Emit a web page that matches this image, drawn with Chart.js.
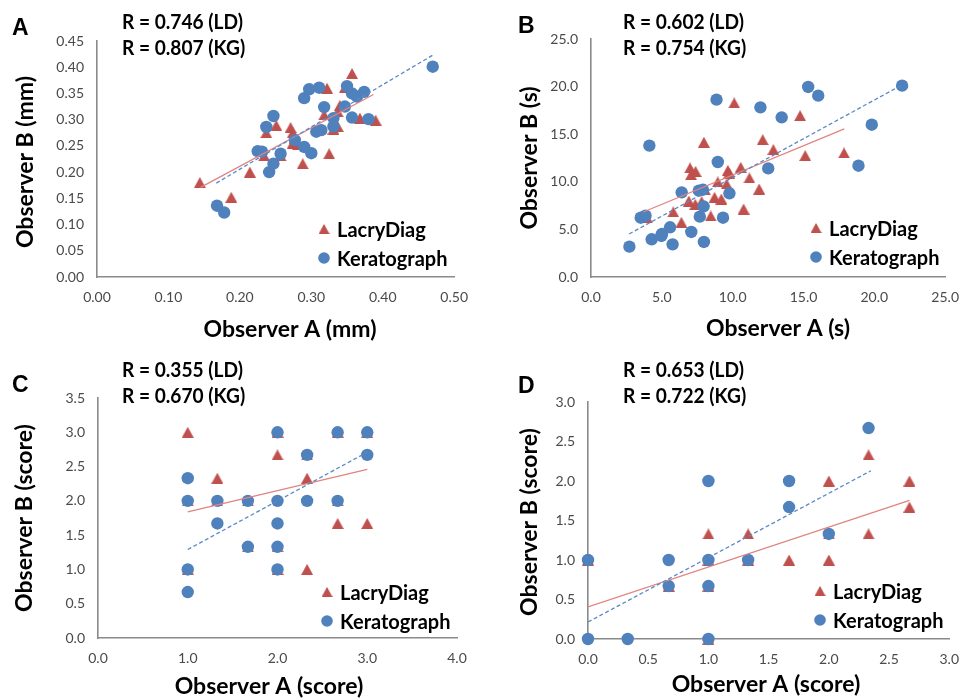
<!DOCTYPE html>
<html>
<head>
<meta charset="utf-8">
<script src="https://cdn.jsdelivr.net/npm/chart.js@4.4.1/dist/chart.umd.min.js"></script>
<style>
  body { margin: 0; background: #fff; width: 971px; height: 698px; overflow: hidden; position: relative; }
  canvas { position: absolute; }
</style>
</head>
<body>
<canvas id="cA" width="480" height="349" style="left:0;top:0"></canvas>
<canvas id="cB" width="491" height="349" style="left:480px;top:0"></canvas>
<canvas id="cC" width="480" height="349" style="left:0;top:349px"></canvas>
<canvas id="cD" width="491" height="349" style="left:480px;top:349px"></canvas>
<script>
// ---- panel A (mm) ----
const aTicksX = ['0.00', '0.10', '0.20', '0.30', '0.40', '0.50'];
const aTicksY = ['0.00', '0.05', '0.10', '0.15', '0.20', '0.25', '0.30', '0.35', '0.40', '0.45'];
const aKgX = [0.168, 0.178, 0.225, 0.231, 0.237, 0.247, 0.241, 0.247, 0.257, 0.277, 0.290, 0.300, 0.290, 0.297,
  0.311, 0.318, 0.307, 0.314, 0.331, 0.331, 0.347, 0.350, 0.357, 0.364, 0.374, 0.357, 0.380, 0.470];
const aKgY = [0.136, 0.123, 0.240, 0.239, 0.286, 0.307, 0.200, 0.216, 0.235, 0.261, 0.248, 0.236, 0.341, 0.358,
  0.361, 0.324, 0.277, 0.280, 0.303, 0.287, 0.325, 0.364, 0.350, 0.344, 0.353, 0.304, 0.301, 0.401];
const aLdX = [0.144, 0.188, 0.214, 0.234, 0.237, 0.251, 0.257, 0.271, 0.274, 0.274, 0.281, 0.288, 0.322, 0.318,
  0.325, 0.331, 0.337, 0.337, 0.340, 0.347, 0.357, 0.368, 0.390, 0.277];
const aLdY = [0.180, 0.152, 0.200, 0.231, 0.275, 0.289, 0.231, 0.285, 0.275, 0.255, 0.252, 0.216, 0.360, 0.309,
  0.235, 0.282, 0.287, 0.315, 0.327, 0.361, 0.388, 0.303, 0.299, 0.265];
const aLdFitX = [0.145, 0.387], aLdFitY = [0.171, 0.348];
const aKgFitX = [0.167, 0.470], aKgFitY = [0.179, 0.423];

// ---- panel B (s) ----
const bTicks = ['0.0', '5.0', '10.0', '15.0', '20.0', '25.0'];
const bKgX = [2.71, 3.51, 3.85, 4.12, 4.28, 4.97, 5.01, 5.58, 5.76, 6.40, 7.08, 7.68, 7.61, 7.90, 7.95, 7.97,
  8.86, 8.95, 9.32, 9.77, 11.96, 12.51, 13.46, 15.33, 16.04, 18.88, 19.82, 21.96];
const bKgY = [3.19, 6.23, 6.44, 13.8, 3.96, 4.31, 4.52, 5.22, 3.43, 8.89, 4.73, 6.34, 9.07, 9.17, 7.42, 3.68,
  18.63, 12.08, 6.23, 8.79, 17.82, 11.41, 16.77, 19.96, 19.05, 11.69, 16.0, 20.10];
const bLdX = [3.96, 5.81, 6.38, 6.90, 6.99, 7.06, 7.38, 7.36, 7.81, 7.97, 8.04, 8.45, 8.72, 8.95, 9.20, 9.57,
  9.66, 9.75, 10.11, 10.57, 10.77, 11.18, 11.87, 12.12, 12.87, 14.76, 15.12, 17.86];
const bLdY = [6.2, 6.83, 5.74, 7.98, 11.45, 10.75, 11.10, 7.63, 7.91, 14.15, 9.17, 6.41, 8.37, 9.98, 8.19, 9.77,
  11.2, 10.92, 18.28, 11.52, 7.14, 10.40, 9.24, 14.43, 13.38, 16.95, 12.75, 13.03];
const bLdFitX = [3.69, 17.88], bLdFitY = [6.83, 15.55];
const bKgFitX = [2.69, 21.98], bKgFitY = [4.52, 20.2];

// ---- panel C (score) ----
const cTicksX = ['0.0', '1.0', '2.0', '3.0', '4.0'];
const cTicksY = ['0.0', '0.5', '1.0', '1.5', '2.0', '2.5', '3.0', '3.5'];
const cKgX = [1, 1, 1, 1, 1.33, 1.33, 1.67, 1.67, 2, 2, 2, 2, 2, 2.33, 2.33, 2.67, 2.67, 3, 3];
const cKgY = [2.33, 2, 1, 0.67, 2, 1.67, 2, 1.33, 3, 2, 1.67, 1.33, 1, 2.67, 2, 3, 2, 3, 2.67];
const cLdX = [1, 1.33, 2, 2.33, 2.33, 2.67, 3, 1, 1, 1.33, 1.67, 1.67, 2, 2, 2, 2.33, 2.67, 2.67, 3];
const cLdY = [3, 2.33, 2.67, 2.33, 1, 1.67, 1.67, 2, 1, 2, 2, 1.33, 3, 1.33, 1, 2.67, 3, 2, 3];
const cLdFitX = [1, 3], cLdFitY = [1.84, 2.46];
const cKgFitX = [1, 3], cKgFitY = [1.29, 2.71];

// ---- panel D (score) ----
const dTicks = ['0.0', '0.5', '1.0', '1.5', '2.0', '2.5', '3.0'];
const dKgX = [0, 0, 0.33, 0.67, 0.67, 1, 1, 1, 1, 1.33, 1.67, 1.67, 2, 2.33];
const dKgY = [1, 0, 0, 1, 0.67, 2, 1, 0.67, 0, 1, 2, 1.67, 1.33, 2.67];
const dLdX = [1, 1.33, 1.67, 2, 2, 2.33, 2.33, 2.67, 2.67, 0, 0.67, 1, 1, 1, 1.33, 2];
const dLdY = [1.33, 1.33, 1, 2, 1, 2.33, 1.33, 2, 1.67, 1, 0.67, 1, 0.67, 0, 1, 1.33];
const dLdFitX = [0, 2.67], dLdFitY = [0.405, 1.755];
const dKgFitX = [0, 2.35], dKgFitY = [0.215, 2.13];

const BLUE = '#4F81BD';
const RED = '#C0504D';
const TXT = 'Lato, "Open Sans", sans-serif';

const pts = (xs, ys) => xs.map((x, i) => ({ x: x, y: ys[i] }));

// excel-like triangle marker: fills its whole box
const triImg = document.createElement('canvas');
triImg.width = 12;
triImg.height = 11;
(function () {
  const t = triImg.getContext('2d');
  t.fillStyle = RED;
  t.beginPath();
  t.moveTo(6, 0);
  t.lineTo(12, 11);
  t.lineTo(0, 11);
  t.closePath();
  t.fill();
})();

// letter, R values, legend and axis titles
const panelText = {
  id: 'panelText',
  afterDraw(chart, args, o) {
    const ctx = chart.ctx;
    ctx.save();
    ctx.fillStyle = '#000';
    ctx.textAlign = 'left';
    ctx.textBaseline = 'alphabetic';
    ctx.font = 'bold 23px "Liberation Sans", Arial, sans-serif';
    ctx.fillText(o.letter, o.letterAt[0], o.letterAt[1]);

    // R lines, squeezed to the narrow width of the original face
    ctx.font = 'bold 21px ' + TXT;
    const sx = 121 / ctx.measureText(o.r[0]).width;
    ctx.save();
    ctx.translate(o.rAt[0], o.rAt[1]);
    ctx.scale(sx, 1);
    ctx.fillText(o.r[0], 0, 0);
    ctx.fillText(o.r[1], 0, 26);
    ctx.restore();

    ctx.font = 'bold 20px ' + TXT;
    const lx = o.legAt[0], ly = o.legAt[1];
    ctx.drawImage(triImg, lx - 5.5, ly - 5, 11, 10);
    ctx.fillStyle = BLUE;
    ctx.beginPath();
    ctx.arc(lx, ly + 29, 5.8, 0, Math.PI * 2);
    ctx.fill();
    ctx.fillStyle = '#000';
    ctx.fillText(chart.data.datasets[3].label, lx + 13, ly + 8);
    ctx.fillText(chart.data.datasets[2].label, lx + 13, ly + 37);

    ctx.font = 'bold 23px ' + TXT;
    ctx.textAlign = 'center';
    ctx.textBaseline = 'middle';
    ctx.fillText(o.xTitle, o.xTitleAt[0], o.xTitleAt[1]);
    ctx.translate(o.yTitleAt[0], o.yTitleAt[1]);
    ctx.rotate(-Math.PI / 2);
    ctx.fillText(o.yTitle, 0, 0);
    ctx.restore();
  }
};

function axis(labels, width, height, pad) {
  return {
    type: 'linear',
    min: parseFloat(labels[0]),
    max: parseFloat(labels[labels.length - 1]),
    afterBuildTicks: s => { s.ticks = labels.map(t => ({ value: parseFloat(t) })); },
    afterFit: s => { if (width) s.width = width; if (height) s.height = height; },
    ticks: {
      callback: (v, i) => labels[i],
      font: { family: TXT, size: 14 },
      color: '#4a4a4a',
      padding: pad,
      maxRotation: 0,
      autoSkip: false
    },
    grid: { display: false, drawTicks: false },
    border: { color: '#8a8a8a', width: 1.6 }
  };
}

function panel(id, p) {
  new Chart(document.getElementById(id), {
    type: 'scatter',
    data: {
      datasets: [
        { label: 'KG fit', data: pts(p.kgFitX, p.kgFitY), showLine: true, pointRadius: 0,
          borderColor: '#5A8AC6', borderWidth: 1.3, borderDash: [4, 2.5], order: 0 },
        { label: 'LD fit', data: pts(p.ldFitX, p.ldFitY), showLine: true, pointRadius: 0,
          borderColor: '#E08482', borderWidth: 1.3, order: 1 },
        { label: 'Keratograph', data: pts(p.kgX, p.kgY), pointStyle: 'circle', pointRadius: 6.2,
          backgroundColor: BLUE, borderWidth: 0, order: 2, clip: false },
        { label: 'LacryDiag', data: pts(p.ldX, p.ldY), pointStyle: triImg, pointRadius: 6,
          backgroundColor: RED, borderWidth: 0, order: 3, clip: false }
      ]
    },
    options: {
      responsive: false,
      animation: false,
      layout: { padding: { left: 0, top: p.area[1], right: p.area[2], bottom: 0 } },
      scales: {
        x: axis(p.ticksX, 0, p.area[3], 12),
        y: axis(p.ticksY, p.area[0], 0, 13)
      },
      plugins: {
        legend: { display: false },
        tooltip: { enabled: false },
        panelText: p.text
      }
    },
    plugins: [panelText]
  });
}

// area = [y-axis width, top padding, right padding, x-axis height]
panel('cA', {
  ticksX: aTicksX, ticksY: aTicksY, kgX: aKgX, kgY: aKgY, ldX: aLdX, ldY: aLdY,
  ldFitX: aLdFitX, ldFitY: aLdFitY, kgFitX: aKgFitX, kgFitY: aKgFitY,
  area: [97, 41, 23, 72],
  text: { letter: 'A', letterAt: [12, 35], r: ['R = 0.746 (LD)', 'R = 0.807 (KG)'], rAt: [122, 29],
    legAt: [324, 229], xTitle: 'Observer A (mm)', xTitleAt: [290, 330], yTitle: 'Observer B (mm)', yTitleAt: [26, 162] }
});
panel('cB', {
  ticksX: bTicks, ticksY: bTicks, kgX: bKgX, kgY: bKgY, ldX: bLdX, ldY: bLdY,
  ldFitX: bLdFitX, ldFitY: bLdFitY, kgFitX: bKgFitX, kgFitY: bKgFitY,
  area: [111, 39, 14, 72],
  text: { letter: 'B', letterAt: [38, 33], r: ['R = 0.602 (LD)', 'R = 0.754 (KG)'], rAt: [143, 29],
    legAt: [336, 228], xTitle: 'Observer A (s)', xTitleAt: [298, 329], yTitle: 'Observer B (s)', yTitleAt: [50, 158] }
});
panel('cC', {
  ticksX: cTicksX, ticksY: cTicksY, kgX: cKgX, kgY: cKgY, ldX: cLdX, ldY: cLdY,
  ldFitX: cLdFitX, ldFitY: cLdFitY, kgFitX: cKgFitX, kgFitY: cKgFitY,
  area: [98, 49, 23, 60],
  text: { letter: 'C', letterAt: [12, 43], r: ['R = 0.355 (LD)', 'R = 0.670 (KG)'], rAt: [122, 28],
    legAt: [327, 243], xTitle: 'Observer A (score)', xTitleAt: [269, 338], yTitle: 'Observer B (score)', yTitleAt: [25, 169] }
});
panel('cD', {
  ticksX: dTicks, ticksY: dTicks, kgX: dKgX, kgY: dKgY, ldX: dLdX, ldY: dLdY,
  ldFitX: dLdFitX, ldFitY: dLdFitY, kgFitX: dKgFitX, kgFitY: dKgFitY,
  area: [108, 53, 18, 59],
  text: { letter: 'D', letterAt: [38, 44], r: ['R = 0.653 (LD)', 'R = 0.722 (KG)'], rAt: [143, 28],
    legAt: [340, 242], xTitle: 'Observer A (score)', xTitleAt: [286, 336], yTitle: 'Observer B (score)', yTitleAt: [50, 173] }
});
</script>
</body>
</html>
